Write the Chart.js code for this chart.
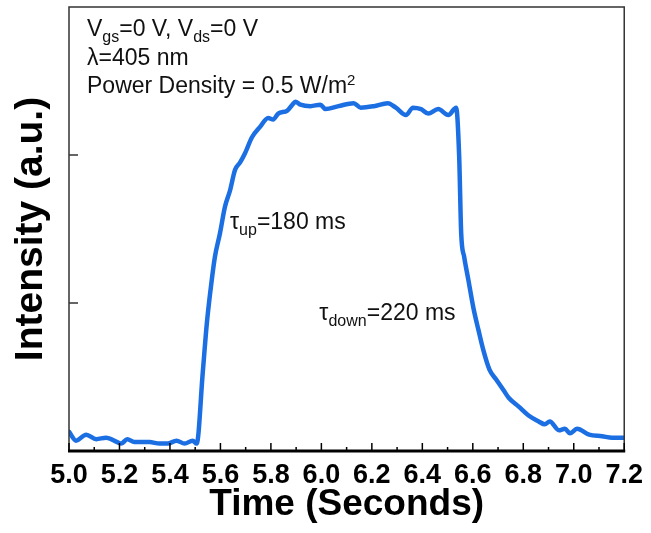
<!DOCTYPE html>
<html>
<head>
<meta charset="utf-8">
<script src="https://cdn.jsdelivr.net/npm/chart.js@4.4.1/dist/chart.umd.min.js"></script>
<style>
  html, body { margin: 0; padding: 0; background: #fff; }
  canvas { display: block; }
</style>
</head>
<body>
<canvas id="grafikRespon" width="651" height="533"></canvas>
<script>
// --- DATA RESPON FOTO (waktu dalam detik, intensitas a.u.) ---
var waktu = [
    5.000, 5.028, 5.068, 5.108, 5.147, 5.191, 5.207, 5.231, 5.259, 5.319,
    5.359, 5.391, 5.426, 5.458, 5.490, 5.506,
    5.530, 5.546, 5.566, 5.578, 5.598, 5.618, 5.638, 5.658, 5.678, 5.697,
    5.725, 5.757, 5.789, 5.809, 5.829, 5.865, 5.885, 5.897, 5.917,
    5.957, 5.996, 6.016, 6.068, 6.128, 6.156, 6.208, 6.263, 6.295, 6.335,
    6.363, 6.395, 6.423, 6.463, 6.503, 6.534,
    6.546, 6.554, 6.566, 6.582, 6.602, 6.622, 6.642, 6.666, 6.694, 6.722,
    6.742, 6.782, 6.821, 6.861, 6.885, 6.905, 6.941, 6.965, 6.985, 7.013,
    7.061, 7.112, 7.152, 7.200
];
var intensitas = [
    0.13, 0.07, 0.11, 0.08, 0.09, 0.06, 0.05, 0.08, 0.06, 0.06,
    0.05, 0.05, 0.07, 0.05, 0.07, 0.05,
    0.53, 0.86, 1.16, 1.31, 1.47, 1.65, 1.76, 1.90, 1.95, 2.01,
    2.12, 2.19, 2.25, 2.24, 2.28, 2.30, 2.34, 2.36, 2.34,
    2.33, 2.34, 2.31, 2.33, 2.35, 2.32, 2.33, 2.35, 2.32, 2.27,
    2.32, 2.31, 2.28, 2.31, 2.27, 2.32,
    1.99, 1.47, 1.31, 1.16, 0.97, 0.82, 0.68, 0.55, 0.48, 0.41,
    0.36, 0.30, 0.24, 0.20, 0.18, 0.20, 0.14, 0.15, 0.12, 0.15,
    0.11, 0.10, 0.09, 0.09
];

// --- TICK SUMBU ---
var tickWaktu = [5.0, 5.2, 5.4, 5.6, 5.8, 6.0, 6.2, 6.4, 6.6, 6.8, 7.0, 7.2];
var tickIntensitas = [1, 2];

// --- TEKS KETERANGAN (posisi tau dalam koordinat data) ---
var teksKondisi = [
    [{ t: 'V' }, { t: 'gs', pos: 'sub' }, { t: '=0 V, V' }, { t: 'ds', pos: 'sub' }, { t: '=0 V' }],
    [{ t: 'λ=405 nm' }],
    [{ t: 'Power Density = 0.5 W/m' }, { t: '2', pos: 'sup' }]
];
var teksTauNaik = [{ t: 'τ' }, { t: 'up', pos: 'sub' }, { t: '=180 ms' }];
var teksTauTurun = [{ t: 'τ' }, { t: 'down', pos: 'sub' }, { t: '=220 ms' }];
var posTauNaik = { x: 5.638, y: 1.50 };
var posTauTurun = { x: 5.992, y: 0.885 };

var FONT = '"Liberation Sans", Arial, Helvetica, sans-serif';

// tulis satu baris teks dengan subscript / superscript
function tulisBaris(ctx, potongan, x, y) {
    potongan.forEach(function(p) {
        var ukuran = 23, geser = 0;
        if (p.pos === 'sub') { ukuran = 16; geser = 6; }
        if (p.pos === 'sup') { ukuran = 15; geser = -8; }
        ctx.font = ukuran + 'px ' + FONT;
        ctx.fillText(p.t, x, y + geser);
        x += ctx.measureText(p.t).width;
    });
}

// --- PLUGIN: bingkai, tick ke dalam, dan teks ---
var pluginBingkai = {
    id: 'bingkai',
    afterDraw: function(chart) {
        var ctx = chart.ctx;
        var area = chart.chartArea;
        var sx = chart.scales.x;
        var sy = chart.scales.y;

        ctx.save();
        // kotak plot
        ctx.strokeStyle = '#333';
        ctx.lineWidth = 1.5;
        ctx.strokeRect(area.left, area.top, area.right - area.left, area.bottom - area.top);

        // sumbu bawah lebih tebal
        ctx.strokeStyle = '#000';
        ctx.lineWidth = 3;
        ctx.beginPath();
        ctx.moveTo(area.left - 1, area.bottom);
        ctx.lineTo(area.right + 1, area.bottom);
        ctx.stroke();

        // tick mayor & minor sumbu x (menghadap ke dalam)
        ctx.lineWidth = 1.5;
        tickWaktu.forEach(function(v, i) {
            var px = sx.getPixelForValue(v);
            ctx.beginPath();
            ctx.moveTo(px, area.bottom);
            ctx.lineTo(px, area.bottom - 8);
            ctx.stroke();
            if (i < tickWaktu.length - 1) {
                var pm = sx.getPixelForValue((v + tickWaktu[i + 1]) / 2);
                ctx.beginPath();
                ctx.moveTo(pm, area.bottom);
                ctx.lineTo(pm, area.bottom - 4);
                ctx.stroke();
            }
        });

        // tick sumbu y
        ctx.strokeStyle = '#333';
        tickIntensitas.forEach(function(v) {
            var py = sy.getPixelForValue(v);
            ctx.beginPath();
            ctx.moveTo(area.left, py);
            ctx.lineTo(area.left + 9, py);
            ctx.stroke();
        });

        // teks kondisi pengukuran
        ctx.fillStyle = '#111';
        ctx.textBaseline = 'alphabetic';
        ctx.textAlign = 'left';
        teksKondisi.forEach(function(baris, i) {
            tulisBaris(ctx, baris, area.left + 18, area.top + 29 + i * 28.5);
        });

        // waktu naik dan turun
        tulisBaris(ctx, teksTauNaik, sx.getPixelForValue(posTauNaik.x), sy.getPixelForValue(posTauNaik.y));
        tulisBaris(ctx, teksTauTurun, sx.getPixelForValue(posTauTurun.x), sy.getPixelForValue(posTauTurun.y));
        ctx.restore();
    }
};

// --- INISIALISASI GRAFIK ---
var titik = waktu.map(function(w, i) {
    return { x: w, y: intensitas[i] };
});

var ctxGrafik = document.getElementById('grafikRespon').getContext('2d');
var grafik = new Chart(ctxGrafik, {
    type: 'line',
    data: {
        datasets: [{
            data: titik,
            borderColor: '#1c6fe3',
            borderWidth: 4.5,
            borderJoinStyle: 'round',
            borderCapStyle: 'round',
            cubicInterpolationMode: 'monotone',
            pointRadius: 0,
            fill: false
        }]
    },
    options: {
        responsive: false,
        devicePixelRatio: 1,
        animation: false,
        layout: { padding: { left: 0, right: 26, top: 7, bottom: 0 } },
        plugins: {
            legend: { display: false },
            tooltip: { enabled: false }
        },
        scales: {
            x: {
                type: 'linear',
                min: 5.0,
                max: 7.2,
                afterBuildTicks: function(scale) {
                    scale.ticks = tickWaktu.map(function(v) { return { value: v }; });
                },
                afterFit: function(scale) { scale.height = 82; },
                grid: { display: false, drawTicks: false },
                border: { display: false },
                ticks: {
                    padding: 8,
                    color: '#000',
                    maxRotation: 0,
                    autoSkip: false,
                    font: { family: FONT, size: 27, weight: 'bold' },
                    callback: function(v) { return Number(v).toFixed(1); }
                },
                title: {
                    display: true,
                    text: 'Time (Seconds)',
                    color: '#000',
                    padding: { top: 0, bottom: 6 },
                    font: { family: FONT, size: 37, weight: 'bold' }
                }
            },
            y: {
                min: 0,
                max: 3,
                afterFit: function(scale) { scale.width = 69; },
                grid: { display: false, drawTicks: false },
                border: { display: false },
                ticks: { display: false, stepSize: 1 },
                title: {
                    display: true,
                    text: 'Intensity (a.u.)',
                    color: '#000',
                    padding: { top: 8, bottom: 0 },
                    font: { family: FONT, size: 39, weight: 'bold' }
                }
            }
        }
    },
    plugins: [pluginBingkai]
});
</script>
</body>
</html>
